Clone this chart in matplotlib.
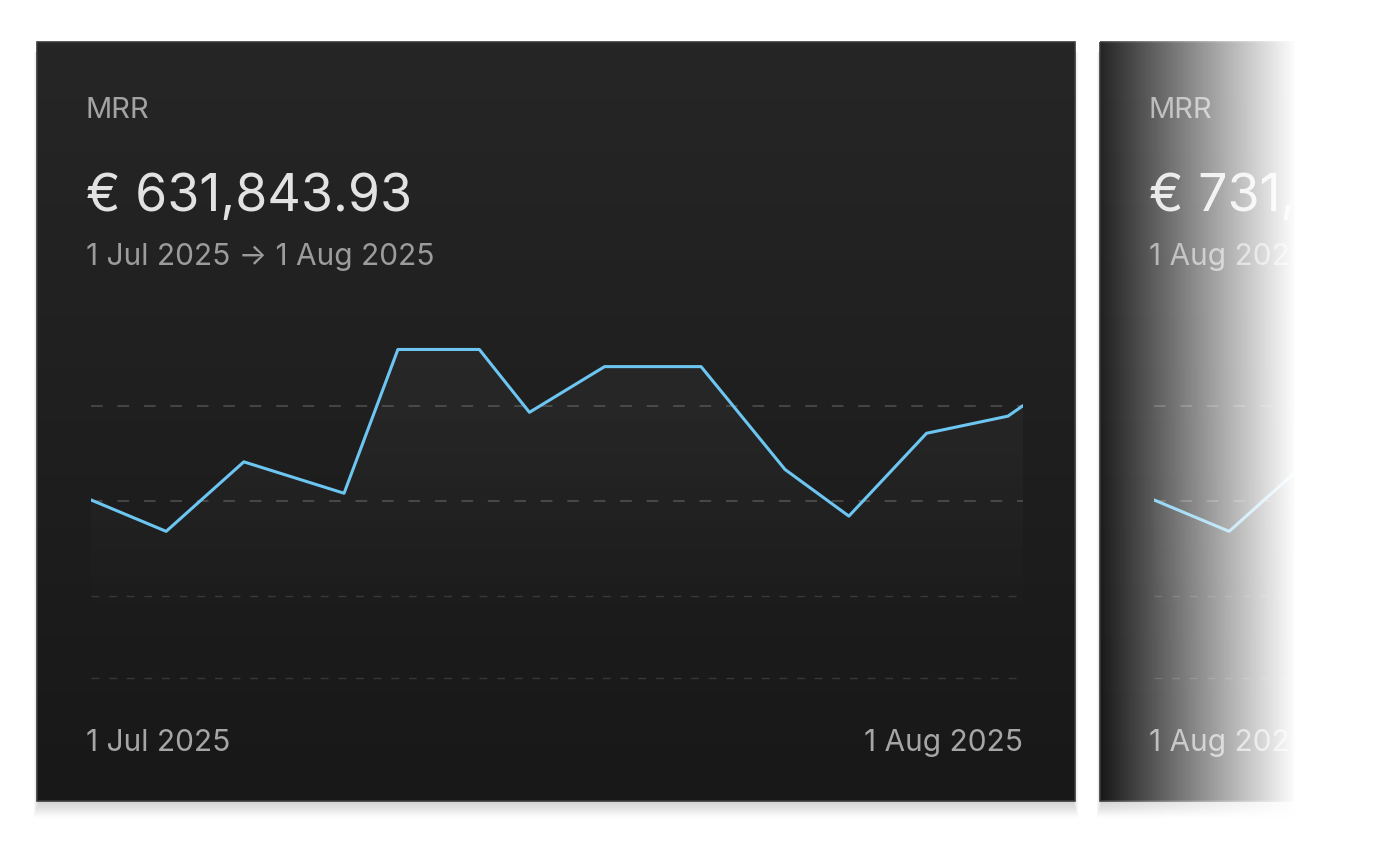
import numpy as np
import pandas as pd
import matplotlib
matplotlib.use('Agg')
import matplotlib.pyplot as plt
import matplotlib.dates as mdates
from matplotlib.patches import Rectangle

plt.rcParams['font.family'] = ['Inter', 'DejaVu Sans']

# data (values in thousands of EUR)
jul_times = ['2025-07-01 00:00', '2025-07-03 12:00', '2025-07-06 02:00', '2025-07-09 10:00',
             '2025-07-11 05:00', '2025-07-13 22:00', '2025-07-15 14:00', '2025-07-18 02:00',
             '2025-07-21 07:00', '2025-07-24 02:00', '2025-07-26 05:00', '2025-07-28 19:00',
             '2025-07-31 12:00', '2025-08-01 00:00']
jul_mrr = [601, 568, 641, 608, 759, 759, 693, 741, 741, 633, 584, 671, 689, 700]

aug_times = ['2025-08-01 00:00', '2025-08-03 12:00', '2025-08-06 02:00']
aug_mrr = [601, 568, 641]

grid_major = [700, 600]
grid_minor = [500, 414]
y_range = (414, 770)

cards = [
    {'title': 'MRR', 'total': '€ 631,843.93', 'start': '1 Jul 2025', 'end': '1 Aug 2025',
     'times': jul_times, 'mrr': jul_mrr},
    {'title': 'MRR', 'total': '€ 731,', 'start': '1 Aug 2025', 'end': None,
     'times': aug_times, 'mrr': aug_mrr},
]

W, H = 1375, 845
fig = plt.figure(figsize=(W / 100, H / 100), dpi=100, facecolor='white')

bg = fig.add_axes([0, 0, 1, 1], zorder=0)
bg.set_xlim(0, W)
bg.set_ylim(H, 0)
bg.axis('off')

card_w, card_h = 1038, 759
card_top = 43
card_lefts = [37, 1100]

top_col = np.array([38, 38, 38]) / 255
bot_col = np.array([24, 24, 25]) / 255
t = np.linspace(0, 1, 200)[:, None, None]
card_grad = top_col * (1 - t) + bot_col * t


def px_axes(l, t_, r, b, z):
    return fig.add_axes([l / W, 1 - b / H, (r - l) / W, (b - t_) / H], zorder=z)


for left, card in zip(card_lefts, cards):
    # soft shadow, mostly below the card
    for s in range(1, 16):
        bg.add_patch(Rectangle((left + 2 - s * 0.35, card_top + 10), card_w - 4 + s * 0.7,
                               card_h - 10 + s * 1.1, color='black', alpha=0.012, lw=0,
                               zorder=1))
    bg.imshow(card_grad, extent=(left, left + card_w, card_top + card_h, card_top),
              aspect='auto', zorder=2)
    bg.add_patch(Rectangle((left, card_top), card_w, card_h, fill=False,
                           edgecolor='#3a3a3a', lw=1.2, zorder=3))

    tx = left + 49
    rng = f"{card['start']} \u2192 {card['end']}" if card['end'] else f"{card['start']} \u2192"
    bg.text(tx, 118, card['title'], fontsize=21, color='#a3a3a3', va='baseline', zorder=4)
    bg.text(tx, 211, card['total'], fontsize=37.3, color='#e2e2e2', va='baseline', zorder=4)
    bg.text(tx, 265, rng, fontsize=21.5, color='#9c9c9c', va='baseline', zorder=4)
    bg.text(tx, 751, card['start'], fontsize=21.5, color='#a6a6a6', va='baseline', zorder=4)
    if card['end']:
        bg.text(left + 986, 751, card['end'], fontsize=21.5, color='#a6a6a6',
                va='baseline', ha='right', zorder=4)

    # chart area
    ax = px_axes(left + 54, 340, left + 986, 679, 2)
    ax.patch.set_alpha(0)
    ax.axis('off')
    x0 = pd.Timestamp(card['start'])
    x1 = x0 + pd.DateOffset(months=1)
    xa, xb = mdates.date2num(x0), mdates.date2num(x1)
    for g in grid_major:
        ax.axhline(g, color='#444444', lw=1.5, dashes=(5.6, 7.1), zorder=1)
    for g in grid_minor:
        ax.axhline(g, color='#383838', lw=1.0, dashes=(5.6, 7.1), zorder=1, clip_on=False)

    times = pd.to_datetime(card['times'])
    xs = mdates.date2num(times)
    ys = np.array(card['mrr'], dtype=float)
    poly = ax.fill_between(xs, ys, y_range[0], color='none', lw=0)
    fade = np.linspace(0, 1, 100)[:, None]
    fill_rgba = np.zeros((100, 1, 4))
    fill_rgba[..., :3] = 1
    fill_rgba[..., 3] = 0.04 * np.clip((fade - 0.1) / 0.9, 0, 1) ** 0.8
    im = ax.imshow(fill_rgba, extent=(xa, xb, y_range[0], y_range[1]), origin='lower',
                   aspect='auto', zorder=2)
    im.set_clip_path(poly.get_paths()[0], transform=ax.transData)
    ax.plot(xs, ys, color='#6cc6f1', lw=2.2, solid_joinstyle='round',
            solid_capstyle='round', zorder=3)
    ax.set_xlim(xa, xb)
    ax.set_ylim(*y_range)

# white fade over the second card
top = fig.add_axes([0, 0, 1, 1], zorder=10)
cols = np.arange(1100, W)
alpha = np.clip((cols - 1100) / 195, 0, 1)
overlay = np.ones((1, len(cols), 4))
overlay[0, :, 3] = alpha
top.imshow(overlay, extent=(1100, W, H, 0), aspect='auto')
top.set_xlim(0, W)
top.set_ylim(H, 0)
top.axis('off')

fig.savefig('out.png', dpi=100, facecolor='white')
